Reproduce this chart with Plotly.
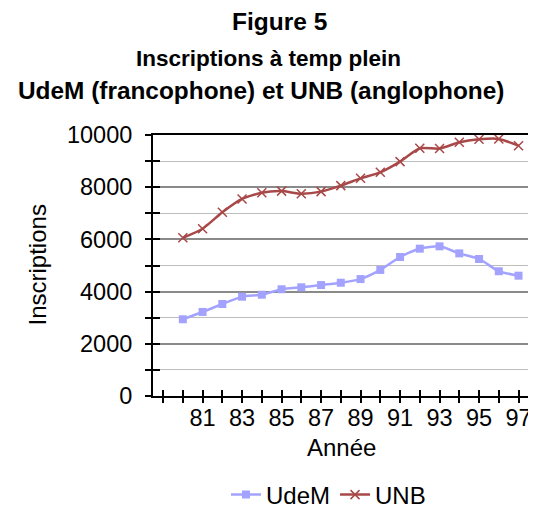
import plotly.graph_objects as go

years = list(range(80, 98))
udem = [2940, 3220, 3525, 3805, 3880, 4090, 4165, 4250, 4340, 4480, 4830, 5325, 5645, 5735, 5465, 5250, 4780, 4610]
unb = [6060, 6410, 7040, 7550, 7790, 7850, 7750, 7830, 8060, 8340, 8570, 8980, 9490, 9480, 9720, 9835, 9850, 9590]

axis_years = list(range(79, 98))
axis_labels = [str(y) if (y % 2 == 1 and y >= 81) else "" for y in axis_years]

title_main = "Figure 5"
title_l2 = "Inscriptions à temp plein"
title_l3 = "UdeM (francophone) et UNB (anglophone)"
x_title = "Année"
y_title = "Inscriptions"

FONT = "Arial, 'Liberation Sans', sans-serif"
OFF = 8  # page body margin in the browser
W, H = 536 - OFF, 510 - OFF
# plot area in screen pixels
X0, X1, Y0, Y1 = 153, 529, 135, 396
L, R, T, B = X0 - OFF, (W + OFF) - X1, Y0 - OFF, (H + OFF) - Y1
PH = Y1 - Y0
PW = X1 - X0

def py(ypix):
    return (Y1 - ypix) / PH

def px(xpix):
    return (xpix - X0) / PW

fig = go.Figure()
fig.add_trace(go.Scatter(
    x=years, y=udem, name="UdeM", mode="lines+markers",
    line=dict(color="#A3A3FF", width=2.5, shape="spline", smoothing=0.6),
    marker=dict(symbol="square", size=8, color="#A3A3FF"),
))
fig.add_trace(go.Scatter(
    x=years, y=unb, name="UNB", mode="lines+markers",
    line=dict(color="#A84848", width=2.5, shape="spline", smoothing=0.6),
    marker=dict(symbol="x-thin", size=9, line=dict(color="#A84848", width=1.5)),
))

xr = [78.49, 97.53]
yr = [0, 10000]
fig.update_layout(
    width=W, height=H,
    margin=dict(l=L, r=R, t=T, b=B, autoexpand=False),
    paper_bgcolor="white", plot_bgcolor="white",
    font=dict(family=FONT, color="black", size=23.5),
    showlegend=True,
    legend=dict(orientation="h", x=px(226), xanchor="left", y=py(495), yanchor="middle",
                font=dict(size=24), itemwidth=30, tracegroupgap=0),
    xaxis=dict(
        range=xr, tickmode="array", tickvals=axis_years, ticktext=axis_labels,
        ticks="inside", ticklen=6, tickwidth=1.5, tickcolor="black", automargin=False,
        showline=True, linecolor="black", linewidth=2, mirror=True,
        showgrid=False, zeroline=False, tickfont=dict(size=23.5), ticklabelstandoff=0,
    ),
    yaxis=dict(
        range=yr, tickmode="linear", tick0=0, dtick=2000, tickformat="d",
        ticks="inside", ticklen=7, tickwidth=1.5, tickcolor="black", automargin=False,
        showline=True, linecolor="black", linewidth=2, mirror=True,
        showgrid=True, gridcolor="#8a8a8a", gridwidth=1.5, zeroline=False,
        minor=dict(dtick=1000, ticks="inside", ticklen=7, tickcolor="black", tickwidth=1.5,
                   showgrid=True, gridcolor="#bdbdbd", gridwidth=1),
        tickfont=dict(size=23.5), ticklabelstandoff=14,
    ),
    xaxis2=dict(range=xr, overlaying="x", anchor="y", side="bottom", tickmode="array",
                tickvals=axis_years, ticks="outside", ticklen=6, tickwidth=1.5, tickcolor="black",
                showticklabels=False, showgrid=False, zeroline=False, showline=False, automargin=False),
    yaxis2=dict(range=yr, overlaying="y", anchor="x", side="left", tickmode="linear", tick0=0, dtick=1000,
                ticks="outside", ticklen=7, tickwidth=1.5, tickcolor="black",
                showticklabels=False, showgrid=False, zeroline=False, showline=False, automargin=False),
)
fig.add_trace(go.Scatter(x=[], y=[], xaxis="x2", yaxis="y2", showlegend=False, hoverinfo="skip"))

annots = [
    (title_main, 279, 21.5, 24.5),
    (title_l2, 268, 58.5, 22.5),
    (title_l3, 261, 91, 24.4),
]
for text, xp, yp, sz in annots:
    fig.add_annotation(text="<b>" + text + "</b>", xref="paper", yref="paper",
                       x=px(xp), y=py(yp), xanchor="center", yanchor="middle",
                       showarrow=False, font=dict(size=sz, family=FONT, color="black"))

fig.add_annotation(text=x_title, xref="paper", yref="paper", x=px(341), y=py(447),
                   xanchor="center", yanchor="middle", showarrow=False, font=dict(size=24))
fig.add_annotation(text=y_title, xref="paper", yref="paper", x=px(37), y=py(265.5),
                   xanchor="center", yanchor="middle", textangle=-90, showarrow=False,
                   font=dict(size=24))

fig.write_html("out.html")
